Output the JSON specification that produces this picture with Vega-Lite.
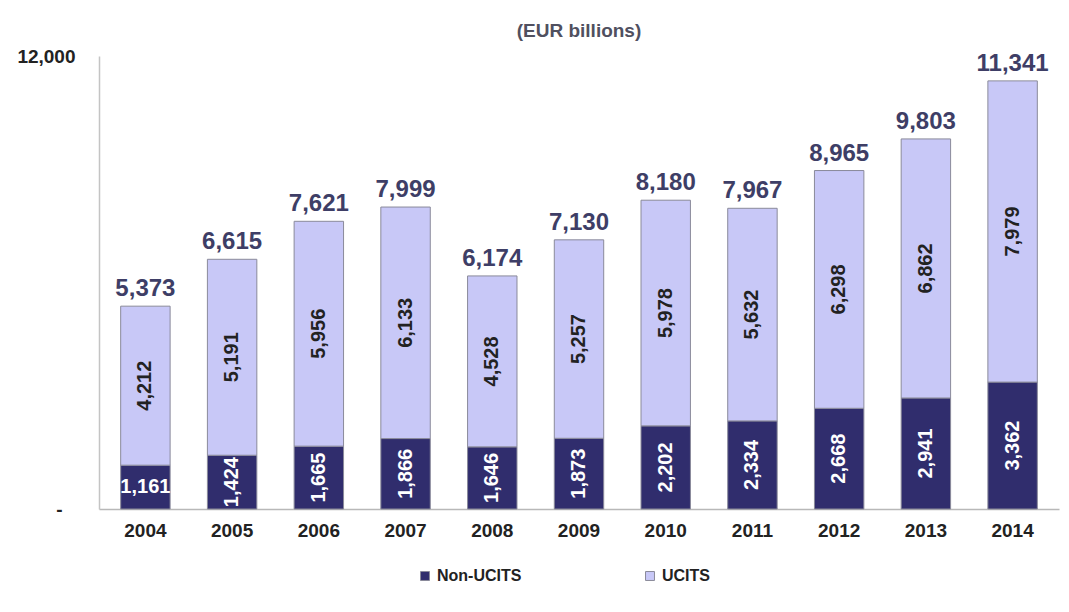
{
  "$schema": "https://vega.github.io/schema/vega-lite/v6.json",
  "width": 960,
  "height": 453,
  "autosize": {"type": "none"},
  "padding": {"left": 99, "top": 56, "right": 10, "bottom": 103},
  "background": "white",
  "title": {"text": "(EUR billions)", "anchor": "middle", "offset": 6, "font": "Liberation Sans", "fontSize": 19, "fontWeight": "bold", "color": "#50505f"},
  "config": {"view": {"stroke": null}},
  "data": {"values": [
    {"year": "2004", "type": "Non-UCITS", "order": 1, "value": 1161, "total": 5373},
    {"year": "2004", "type": "UCITS", "order": 2, "value": 4212, "total": 5373},
    {"year": "2005", "type": "Non-UCITS", "order": 1, "value": 1424, "total": 6615},
    {"year": "2005", "type": "UCITS", "order": 2, "value": 5191, "total": 6615},
    {"year": "2006", "type": "Non-UCITS", "order": 1, "value": 1665, "total": 7621},
    {"year": "2006", "type": "UCITS", "order": 2, "value": 5956, "total": 7621},
    {"year": "2007", "type": "Non-UCITS", "order": 1, "value": 1866, "total": 7999},
    {"year": "2007", "type": "UCITS", "order": 2, "value": 6133, "total": 7999},
    {"year": "2008", "type": "Non-UCITS", "order": 1, "value": 1646, "total": 6174},
    {"year": "2008", "type": "UCITS", "order": 2, "value": 4528, "total": 6174},
    {"year": "2009", "type": "Non-UCITS", "order": 1, "value": 1873, "total": 7130},
    {"year": "2009", "type": "UCITS", "order": 2, "value": 5257, "total": 7130},
    {"year": "2010", "type": "Non-UCITS", "order": 1, "value": 2202, "total": 8180},
    {"year": "2010", "type": "UCITS", "order": 2, "value": 5978, "total": 8180},
    {"year": "2011", "type": "Non-UCITS", "order": 1, "value": 2334, "total": 7967},
    {"year": "2011", "type": "UCITS", "order": 2, "value": 5632, "total": 7967},
    {"year": "2012", "type": "Non-UCITS", "order": 1, "value": 2668, "total": 8965},
    {"year": "2012", "type": "UCITS", "order": 2, "value": 6298, "total": 8965},
    {"year": "2013", "type": "Non-UCITS", "order": 1, "value": 2941, "total": 9803},
    {"year": "2013", "type": "UCITS", "order": 2, "value": 6862, "total": 9803},
    {"year": "2014", "type": "Non-UCITS", "order": 1, "value": 3362, "total": 11341},
    {"year": "2014", "type": "UCITS", "order": 2, "value": 7979, "total": 11341}
  ]},
  "encoding": {
    "x": {
      "field": "year", "type": "nominal",
      "scale": {"paddingInner": 0.43, "paddingOuter": 0.25},
      "axis": {"title": null, "labelAngle": 0, "ticks": false, "domainColor": "#b8b8b8", "domainWidth": 1.5, "labelFont": "Liberation Sans", "labelFontSize": 19, "labelFontWeight": "bold", "labelColor": "#222222", "labelPadding": 12}
    }
  },
  "layer": [
    {
      "mark": {"type": "bar", "stroke": "#8a8a9a", "strokeWidth": 1},
      "encoding": {
        "y": {
          "field": "value", "type": "quantitative", "stack": "zero",
          "scale": {"domain": [0, 12000], "nice": false},
          "axis": {"title": null, "values": [0, 12000], "grid": false, "ticks": false, "domainColor": "#c4c4c4", "domainWidth": 1.5, "labelAlign": "right", "labelPadding": {"condition": {"test": "datum.value == 0", "value": 37}, "value": 24}, "labelFont": "Liberation Sans", "labelFontSize": 19, "labelFontWeight": "bold", "labelColor": "#222222", "labelExpr": "datum.value == 0 ? '-' : format(datum.value, ',')"}
        },
        "color": {
          "field": "type", "type": "nominal",
          "scale": {"domain": ["Non-UCITS", "UCITS"], "range": ["#302d6d", "#c8c8f7"]},
          "legend": {"title": null, "orient": "none", "direction": "horizontal", "legendX": 318, "legendY": 512, "symbolType": "square", "symbolSize": 80, "symbolStrokeColor": "#8a8a9a", "symbolStrokeWidth": 1, "labelFont": "Liberation Sans", "labelFontSize": 16, "labelFontWeight": "bold", "labelColor": "#222222", "labelOffset": 4, "columnPadding": 120}
        },
        "order": {"field": "order", "type": "quantitative"}
      }
    },
    {
      "transform": [
        {"stack": "value", "groupby": ["year"], "sort": [{"field": "order"}], "as": ["y0", "y1"]},
        {"fold": ["y0", "y1"], "as": ["edge", "pos"]},
        {"aggregate": [{"op": "mean", "field": "pos", "as": "mid"}, {"op": "max", "field": "value", "as": "value"}], "groupby": ["year", "type", "order"]}
      ],
      "mark": {"type": "text", "font": "Liberation Sans", "fontSize": 20, "fontWeight": "bold", "align": "center", "baseline": "middle"},
      "encoding": {
        "y": {"field": "mid", "type": "quantitative", "scale": {"domain": [0, 12000], "nice": false}},
        "text": {"field": "value", "type": "quantitative", "format": ","},
        "angle": {"condition": {"test": "datum.year == '2004' && datum.type == 'Non-UCITS'", "value": 0}, "value": 270},
        "color": {"condition": {"test": "datum.type == 'Non-UCITS'", "value": "#ffffff"}, "value": "#222222"}
      }
    },
    {
      "transform": [{"filter": "datum.type == 'UCITS'"}],
      "mark": {"type": "text", "font": "Liberation Sans", "fontSize": 24, "fontWeight": "bold", "color": "#3e3e66", "baseline": "bottom", "dy": -5},
      "encoding": {
        "y": {"field": "total", "type": "quantitative", "scale": {"domain": [0, 12000], "nice": false}},
        "text": {"field": "total", "type": "quantitative", "format": ","}
      }
    }
  ]
}
